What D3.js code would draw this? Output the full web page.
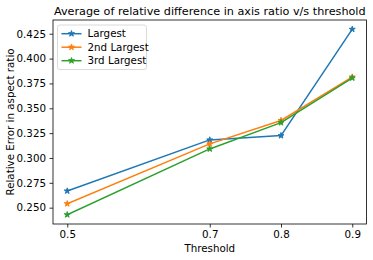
<!DOCTYPE html>
<html><head><meta charset="utf-8">
<script src="https://cdn.jsdelivr.net/npm/d3@7"></script>
<style>body{margin:0;background:#fff}svg{display:block}text{font-family:"DejaVu Sans",sans-serif;fill:#000}</style>
</head><body><svg id="c" width="373" height="260"></svg>
<script>
const thresholds = [0.5, 0.7, 0.8, 0.9];
const seriesNames = ["Largest", "2nd Largest", "3rd Largest"];
const largest = [0.2668, 0.3182, 0.3225, 0.4295];
const secondLargest = [0.2540, 0.3142, 0.3377, 0.3815];
const thirdLargest = [0.2429, 0.3091, 0.3356, 0.3805];
const colors = ["#1f77b4", "#ff7f0e", "#2ca02c"];
const xTicks = [0.5, 0.7, 0.8, 0.9];
const yTicks = [0.250, 0.275, 0.300, 0.325, 0.350, 0.375, 0.400, 0.425];

const series = [largest, secondLargest, thirdLargest];
const svg = d3.select("#c");
const L = 53, R = 366.5, T = 20, B = 224;

const xmin = d3.min(thresholds), xmax = d3.max(thresholds);
const xm = (xmax - xmin) * 0.05;
const x = d3.scaleLinear().domain([xmin - xm, xmax + xm]).range([L, R]);
const all = series.flat();
const ymin = d3.min(all), ymax = d3.max(all);
const ym = (ymax - ymin) * 0.05;
const y = d3.scaleLinear().domain([ymin - ym, ymax + ym]).range([B, T]);

// axes
const xAxis = d3.axisBottom(x).tickValues(xTicks).tickFormat(d3.format(".1f")).tickSizeOuter(0).tickSize(3.5).tickPadding(3.5);
const yAxis = d3.axisLeft(y).tickValues(yTicks).tickFormat(d3.format(".3f")).tickSizeOuter(0).tickSize(3.5).tickPadding(3.5);
const gx = svg.append("g").attr("transform", `translate(0,${B})`).call(xAxis);
const gy = svg.append("g").attr("transform", `translate(${L},0)`).call(yAxis);
[gx, gy].forEach(g => {
  g.select(".domain").remove();
  g.selectAll("line").attr("stroke", "#000").attr("stroke-width", 0.8);
  g.selectAll("text").attr("font-size", 10.3).attr("font-family", "DejaVu Sans");
});

const line = d3.line().x((d, i) => x(thresholds[i])).y(d => y(d));
const star = d3.symbol().type(d3.symbolStar).size(11);
series.forEach((s, k) => {
  svg.append("path").datum(s).attr("d", line).attr("fill", "none")
    .attr("stroke", colors[k]).attr("stroke-width", 1.5).attr("stroke-linejoin", "round").attr("stroke-linecap", "square");
  svg.append("g").selectAll("path").data(s).join("path")
    .attr("d", star).attr("transform", (d, i) => `translate(${x(thresholds[i])},${y(d)})`)
    .attr("fill", colors[k]).attr("stroke", colors[k]).attr("stroke-width", 1).attr("stroke-linejoin", "miter");
});

// frame
svg.append("rect").attr("x", L).attr("y", T).attr("width", R - L).attr("height", B - T)
  .attr("fill", "none").attr("stroke", "#000").attr("stroke-width", 0.8);

// title and labels
const title = svg.append("text").attr("x", (L + R) / 2).attr("y", 15).attr("text-anchor", "middle").attr("font-size", 12)
  .text("Average of relative difference in axis ratio v/s threshold");
const tw = title.node().getComputedTextLength();
title.attr("font-size", 12 * 312 / tw);
svg.append("text").attr("x", (L + R) / 2).attr("y", 251.5).attr("text-anchor", "middle").attr("font-size", 10.3).text("Threshold");
svg.append("text").attr("transform", `translate(13.5,${(T + B) / 2}) rotate(-90)`).attr("text-anchor", "middle").attr("font-size", 10.3)
  .text("Relative Error in aspect ratio");

// legend
const lg = svg.append("g");
lg.append("rect").attr("x", 57.5).attr("y", 25).attr("width", 89).attr("height", 44.5).attr("rx", 2.5)
  .attr("fill", "#fff").attr("fill-opacity", 0.8).attr("stroke", "#d0d0d0").attr("stroke-width", 0.8);
seriesNames.forEach((n, k) => {
  const yy = 33.7 + k * 13.5;
  lg.append("line").attr("x1", 61.5).attr("x2", 81.5).attr("y1", yy).attr("y2", yy)
    .attr("stroke", colors[k]).attr("stroke-width", 1.5);
  lg.append("path").attr("d", star).attr("transform", `translate(71.5,${yy})`)
    .attr("fill", colors[k]).attr("stroke", colors[k]).attr("stroke-width", 1);
  lg.append("text").attr("x", 87.5).attr("y", yy + 3.6).attr("font-size", 10.3).text(n);
});
</script></body></html>
